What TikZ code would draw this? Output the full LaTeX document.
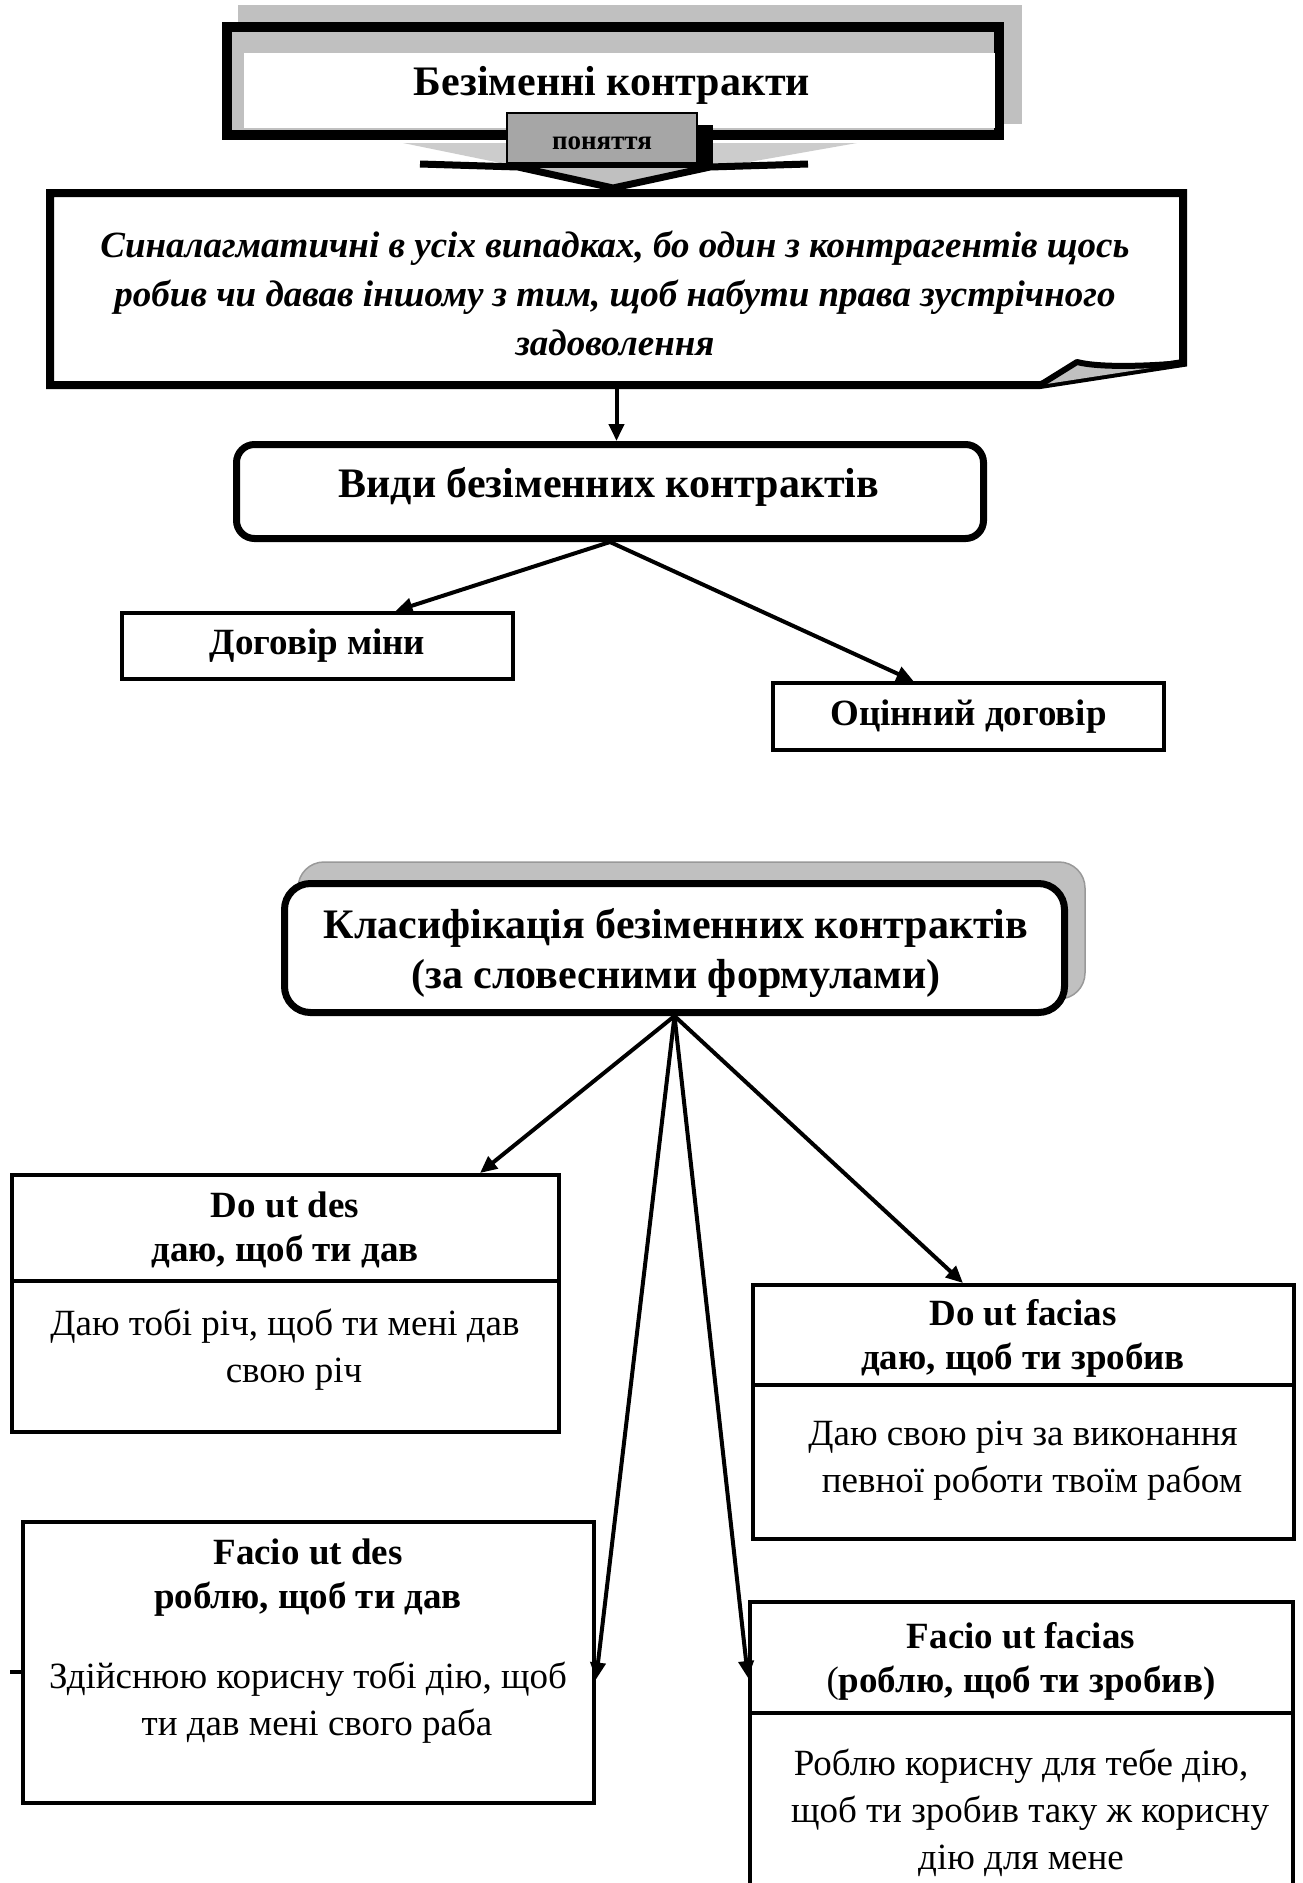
\documentclass[tikz,border=0pt]{standalone}
\usepackage{fontspec}
\setmainfont{Liberation Serif}
\usetikzlibrary{arrows.meta,calc}
\definecolor{lg}{HTML}{C0C0C0}
\definecolor{llg}{HTML}{CCCCCC}
\definecolor{mg}{HTML}{A6A6A6}
\tikzset{
  arr/.style={line width=4pt, -{Triangle[length=17pt,width=15pt]}},
  plainbox/.style={draw, line width=4pt, inner sep=0pt},
  txt/.style={inner sep=0pt, align=center},
  bodytxt/.style={txt, font=\fontsize{37}{47}\selectfont},
  headtxt/.style={txt, font=\fontsize{37}{44}\selectfont\bfseries},
  bigtxt/.style={txt, font=\fontsize{42}{50}\selectfont\bfseries},
  smalltxt/.style={font=\fontsize{37}{42}\selectfont\bfseries},
}
\begin{document}
\begin{tikzpicture}[x=1pt,y=-1pt]
\useasboundingbox (0,0) rectangle (1302,1883);
\clip (0,0) rectangle (1302,1883);
\fill[white] (0,0) rectangle (1302,1883);

% ---- title ----
\fill[lg] (238,5) rectangle (1022,124);
\node[draw, line width=10pt, fill=lg, minimum width=772pt, minimum height=108pt, inner sep=0pt] (title) at (613,81) {};
\fill[white] (244,53) rectangle (995,128);
\node[txt, font=\fontsize{42}{48}\selectfont\bfseries] (titletext) at (612,85) {Безіменні контракти};

% ---- chevron arrow ----
\fill[llg] (403,143) -- (857,143) -- (613,186) -- cycle;
\fill[lg] (420,164) -- (518,167) -- (613,189) -- (710,167) -- (808,164) -- cycle;
\draw[line width=7pt, line join=miter] (420,164) -- (518,167) -- (613,188) -- (710,167) -- (808,164);

% ---- ponyattya ----
\fill[black] (520,125) rectangle (713,168);
\node[draw, line width=2.5pt, fill=mg, minimum width=190pt, minimum height=50pt, inner sep=0pt] (pon) at (602,138) {};
\node[txt, font=\fontsize{27}{30}\selectfont\bfseries] (pontext) at (602,143) {поняття};

% ---- description ----
\node[minimum width=1133pt, minimum height=191pt, inner sep=0pt] (desc) at (616.5,288.5) {};
\draw[line width=8pt, fill=white, line join=miter] (50,193) -- (1183,193) -- (1183,363) -- (1040,385) -- (50,385) -- cycle;
\draw[line width=6pt, fill=lg, line join=round] (1040,385) -- (1077,362) .. controls (1100,368) and (1150,366) .. (1183,363);
\node[txt, font=\fontsize{37}{49}\selectfont\bfseries\itshape] (desctext) at (615,293)
  {Синалагматичні в усіх випадках, бо один з контрагентів щось\\робив чи давав іншому з тим, щоб набути права зустрічного\\задоволення};

% ---- vydy ----
\node[draw, line width=7pt, rounded corners=18pt, minimum width=747pt, minimum height=94pt, inner sep=0pt] (vyd) at (610,491.5) {};
\node[bigtxt] (vydtext) at (609,487) {Види безіменних контрактів};
\draw[arr] (desc.south) -- (desc.south |- vyd.north);

\node[plainbox, minimum width=391pt, minimum height=66pt, smalltxt] (dog) at (317.5,646) {Договір міни};
\node[plainbox, minimum width=391pt, minimum height=67pt, smalltxt] (ocin) at (968.5,716.5) {Оцінний договір};
\draw[arr] (vyd.south) -- ($(dog.north)+(78,0)$);
\draw[arr] (vyd.south) -- ($(ocin.north)+(-55,0)$);

% ---- classification ----
\draw[line width=1.5pt, draw=black!40, fill=lg, rounded corners=26pt] (298,862) rectangle (1085,999);
\node[draw, line width=7pt, fill=white, rounded corners=26pt, minimum width=780pt, minimum height=129pt, inner sep=0pt] (klas) at (674.5,948) {};
\node[bigtxt] (klastext) at (676,953) {Класифікація безіменних контрактів\\(за словесними формулами)};

% ---- Do ut des ----
\node[plainbox, minimum width=547pt, minimum height=257pt] (dud) at (285.5,1303.5) {};
\draw[line width=4pt] (12,1281) -- (559,1281);
\node[headtxt] (dudh) at (285,1230) {Do ut des\\даю, щоб ти дав};
\node[bodytxt] (dudb) at (285,1350) {Даю тобі річ, щоб ти мені дав\\\hspace*{18pt}свою річ};

% ---- Do ut facias ----
\node[plainbox, minimum width=541pt, minimum height=254pt] (duf) at (1023.5,1412) {};
\draw[line width=4pt] (753,1385) -- (1294,1385);
\node[headtxt] (dufh) at (1023,1338.5) {Do ut facias\\даю, щоб ти зробив};
\node[bodytxt] (dufb) at (1023,1461) {Даю свою річ за виконання\\\hspace*{18pt}певної роботи твоїм рабом};

% ---- Facio ut des ----
\node[plainbox, minimum width=571pt, minimum height=281pt] (fud) at (308.5,1662.5) {};
\node[headtxt] (fudh) at (308,1577.5) {Facio ut des\\роблю, щоб ти дав};
\node[bodytxt] (fudb) at (308,1703) {Здійснюю корисну тобі дію, щоб\\\hspace*{18pt}ти дав мені свого раба};
\draw[line width=4pt] (10,1672) -- (21,1672);

% ---- Facio ut facias ----
\node[plainbox, minimum width=543pt, minimum height=348pt] (fuf) at (1021.5,1776) {};
\draw[line width=4pt] (750,1713) -- (1293,1713);
\node[headtxt] (fufh) at (1021,1661) {Facio ut facias\\{\mdseries(}роблю, щоб ти зробив)};
\node[bodytxt] (fufb) at (1021,1813) {Роблю корисну для тебе дію,\\\hspace*{18pt}щоб ти зробив таку ж корисну\\дію для мене};

% ---- arrows from classification ----
\draw[arr] (klas.south) -- ($(dud.north)+(194.5,0)$);
\draw[arr] (klas.south) -- ($(duf.north)+(-60.5,0)$);
\draw[arr] (klas.south) -- ($(fud.east)+(0,17)$);
\draw[arr] (klas.south) -- ($(fuf.north west)+(0,78)$);
\end{tikzpicture}
\end{document}
